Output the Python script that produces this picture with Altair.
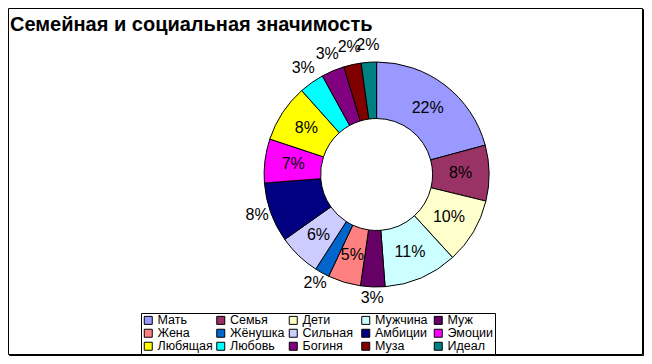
import altair as alt
import pandas as pd

# Data (clockwise from 12 o'clock)
categories = ["Мать", "Семья", "Дети", "Мужчина", "Муж",
              "Жена", "Жёнушка", "Сильная", "Амбиции", "Эмоции",
              "Любящая", "Любовь", "Богиня", "Муза", "Идеал"]
shares = [20.8, 8.0, 9.4, 10.6, 3.5, 4.7, 2.1, 6.1, 8.6, 6.3, 8.3, 3.6, 3.3, 2.5, 2.2]
labels = ["22%", "8%", "10%", "11%", "3%", "5%", "2%", "6%", "8%", "7%",
          "8%", "3%", "3%", "2%", "2%"]
outside_labels = ["Муж", "Жёнушка", "Амбиции", "Любовь", "Богиня", "Муза", "Идеал"]
colors = ["#9999FF", "#993366", "#FFFFCC", "#CCFFFF", "#660066",
          "#FF8080", "#0066CC", "#CCCCFF", "#000080", "#FF00FF",
          "#FFFF00", "#00FFFF", "#800080", "#800000", "#008080"]
title_text = "Семейная и социальная значимость"

df = pd.DataFrame({
    "cat": categories,
    "value": shares,
    "label": labels,
    "idx": list(range(len(categories))),
    "outside": [c in outside_labels for c in categories],
})
title_df = pd.DataFrame({"t": [title_text]})

W, H = 636, 348
CX, CY = 368.6, 166.5
FONT = "Liberation Sans"

base = alt.Chart(df).encode(
    theta=alt.Theta("value:Q", stack=True),
    order=alt.Order("idx:Q"),
    x=alt.value(CX),
    y=alt.value(CY),
)

arcs = base.mark_arc(outerRadius=112.5, innerRadius=56, stroke="black", strokeWidth=1).encode(
    color=alt.Color(
        "cat:N",
        scale=alt.Scale(domain=categories, range=colors),
        sort=categories,
        legend=alt.Legend(
            orient="none", legendX=133, legendY=305,
            direction="horizontal", columns=5, title=None,
            symbolType="square", symbolSize=64,
            symbolStrokeColor="black", symbolStrokeWidth=1, symbolOpacity=1,
            labelFont=FONT, labelFontSize=12.5, labelColor="black",
            labelOffset=3, labelLimit=0,
            strokeColor="black", fillColor="white", padding=1,
            columnPadding=1.5, rowPadding=-1, gridAlign="all",
        ),
    )
)

inside_text = base.mark_text(
    font=FONT, fontSize=16, color="black", align="center", baseline="middle", radius=84
).encode(text=alt.condition("datum.outside", alt.value(""), alt.Text("label:N")))

outside_text = base.mark_text(
    font=FONT, fontSize=16, color="black", align="center", baseline="middle", radius=127, dy=-3
).encode(text=alt.condition("datum.outside", alt.Text("label:N"), alt.value("")))

frame_shadow = alt.Chart(title_df).mark_rect(fillOpacity=0, stroke="black", strokeWidth=1).encode(
    x=alt.value(1.5), x2=alt.value(W - 0.5), y=alt.value(1.5), y2=alt.value(H - 0.5)
)
frame = alt.Chart(title_df).mark_rect(fill="white", stroke="black", strokeWidth=1).encode(
    x=alt.value(0.5), x2=alt.value(W - 1.5), y=alt.value(0.5), y2=alt.value(H - 1.5)
)

title = alt.Chart(title_df).mark_text(
    font=FONT, fontSize=20, fontWeight="bold", color="black", align="left", baseline="alphabetic"
).encode(text="t:N", x=alt.value(2), y=alt.value(23))

chart = alt.layer(frame_shadow, frame, arcs, inside_text, outside_text, title).properties(
    width=W, height=H, padding=0,
    autosize=alt.AutoSizeParams(type="none"),
).configure_view(strokeWidth=0)

chart.save("out.html", embed_options={"renderer": "svg", "actions": False})
